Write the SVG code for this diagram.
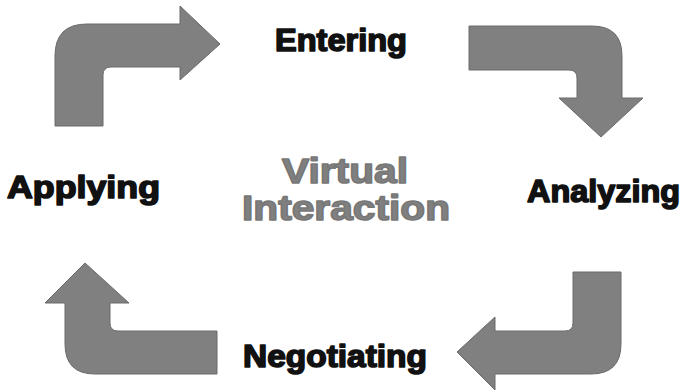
<svg xmlns="http://www.w3.org/2000/svg" width="683" height="392" viewBox="0 0 683 392">
  <style>
    .arrow { fill: #808080; stroke: #6a6a6a; stroke-width: 1; }
    .label { font-family: "Liberation Sans", Arial, sans-serif; font-weight: bold; font-size: 31px; fill: #111; stroke: #111; stroke-width: 1.6; stroke-linejoin: round; }
    .center { font-family: "Liberation Sans", Arial, sans-serif; font-weight: bold; font-size: 35px; fill: #808080; stroke: #777; stroke-width: 1.6; stroke-linejoin: round; }
  </style>
  <rect width="683" height="392" fill="#ffffff"/>
  <g id="connectors">
    <path id="arrow-apply-enter" class="arrow" d="M55,126 L55,56 Q55,24 87,24 L180,24 L180,6 L220,44 L180,80 L180,67 L111,67 Q103,67 103,75 L103,126 Z"/>
    <path id="arrow-enter-analyze" class="arrow" d="M469,26 L592,26 Q622,26 622,56 L622,98 L643,98 L601,137 L559,98 L577,98 L577,78 Q577,70 569,70 L469,70 Z"/>
    <path id="arrow-analyze-negotiate" class="arrow" d="M573,272 L621,272 L621,344 Q621,374 591,374 L495,374 L495,390 L457,352 L495,317 L495,331 L565,331 Q573,331 573,323 Z"/>
    <path id="arrow-negotiate-apply" class="arrow" d="M217,331 L217,374 L95,374 Q65,374 65,344 L65,303 L45,303 L85,263 L129,303 L110,303 L110,323 Q110,331 118,331 Z"/>
  </g>
  <g id="entering"><text class="label" x="275" y="51" textLength="132" lengthAdjust="spacingAndGlyphs">Entering</text></g>
  <g id="analyzing"><text class="label" x="527" y="202" textLength="153" lengthAdjust="spacingAndGlyphs">Analyzing</text></g>
  <g id="negotiating"><text class="label" x="243" y="367" textLength="184" lengthAdjust="spacingAndGlyphs">Negotiating</text></g>
  <g id="applying"><text class="label" x="7" y="198" textLength="153" lengthAdjust="spacingAndGlyphs">Applying</text></g>
  <g id="virtual-interaction">
    <text class="center" x="282" y="183" textLength="126" lengthAdjust="spacingAndGlyphs">Virtual</text>
    <text class="center" x="242" y="220" textLength="208" lengthAdjust="spacingAndGlyphs">Interaction</text>
  </g>
</svg>
